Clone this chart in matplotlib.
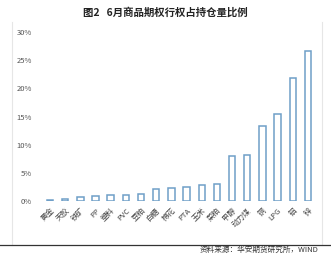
import matplotlib
matplotlib.use("Agg")
import matplotlib.pyplot as plt
from matplotlib.lines import Line2D
from matplotlib.ticker import FuncFormatter

plt.rcParams['font.family'] = ['Noto Sans CJK SC', 'DejaVu Sans']

categories = ['黄金', '天胶', '铁矿', 'PP', '塑料', 'PVC', '豆粕', '白糖', '棉花',
              'PTA', '玉米', '菜粕', '甲醇', '动力煤', '铜', 'LPG', '铝', '锌']
values = [0.002, 0.003, 0.0065, 0.008, 0.010, 0.011, 0.012, 0.021, 0.023,
          0.024, 0.028, 0.030, 0.080, 0.082, 0.134, 0.154, 0.219, 0.266]
yticks = [0, 0.05, 0.10, 0.15, 0.20, 0.25, 0.30]
title = '图2   6月商品期权行权占持仓量比例'
source = '资料来源：华安期货研究所，WIND'

W, H = 331, 254
fig = plt.figure(figsize=(W / 100, H / 100), dpi=100)
fig.patch.set_facecolor('white')

ax = fig.add_axes([40 / W, 1 - 201 / H, 280 / W, (201 - 32) / H])
x = list(range(len(categories)))
ax.bar(x, values, width=0.42, facecolor='white', edgecolor='#6f9fc8', linewidth=1.1)
ax.set_xlim(-0.66, 17.8)
ax.set_ylim(0, 0.30)
ax.set_yticks(yticks)
ax.yaxis.set_major_formatter(FuncFormatter(lambda v, p: f'{round(v * 100)}%'))
ax.set_xticks(x)
ax.set_xticklabels(categories, rotation=45, ha='right', rotation_mode='anchor',
                   fontsize=5.5, color='#444444')
ax.tick_params(axis='y', labelsize=5.5, labelcolor='#555555', length=0, pad=6)
ax.tick_params(axis='x', length=0, pad=4)
for s in ax.spines.values():
    s.set_visible(False)

fig.text(0.5, 1 - 12 / H, title, ha='center', va='center', fontsize=7.5,
         fontweight='bold', color='#222222')

# frame lines
fig.add_artist(Line2D([12 / W, 12 / W], [1 - 245 / H, 1 - 22 / H], color='#e6e6e6', lw=0.8))
fig.add_artist(Line2D([322 / W, 322 / W], [1 - 245 / H, 1 - 22 / H], color='#e6e6e6', lw=0.8))
fig.add_artist(Line2D([0, 1], [1 - 245 / H, 1 - 245 / H], color='#333333', lw=0.9))
fig.text(1 - 12 / W, 1 - 253.5 / H, source, ha='right', va='bottom', fontsize=5.5,
         color='#333333')

fig.savefig('out.png', dpi=100)
